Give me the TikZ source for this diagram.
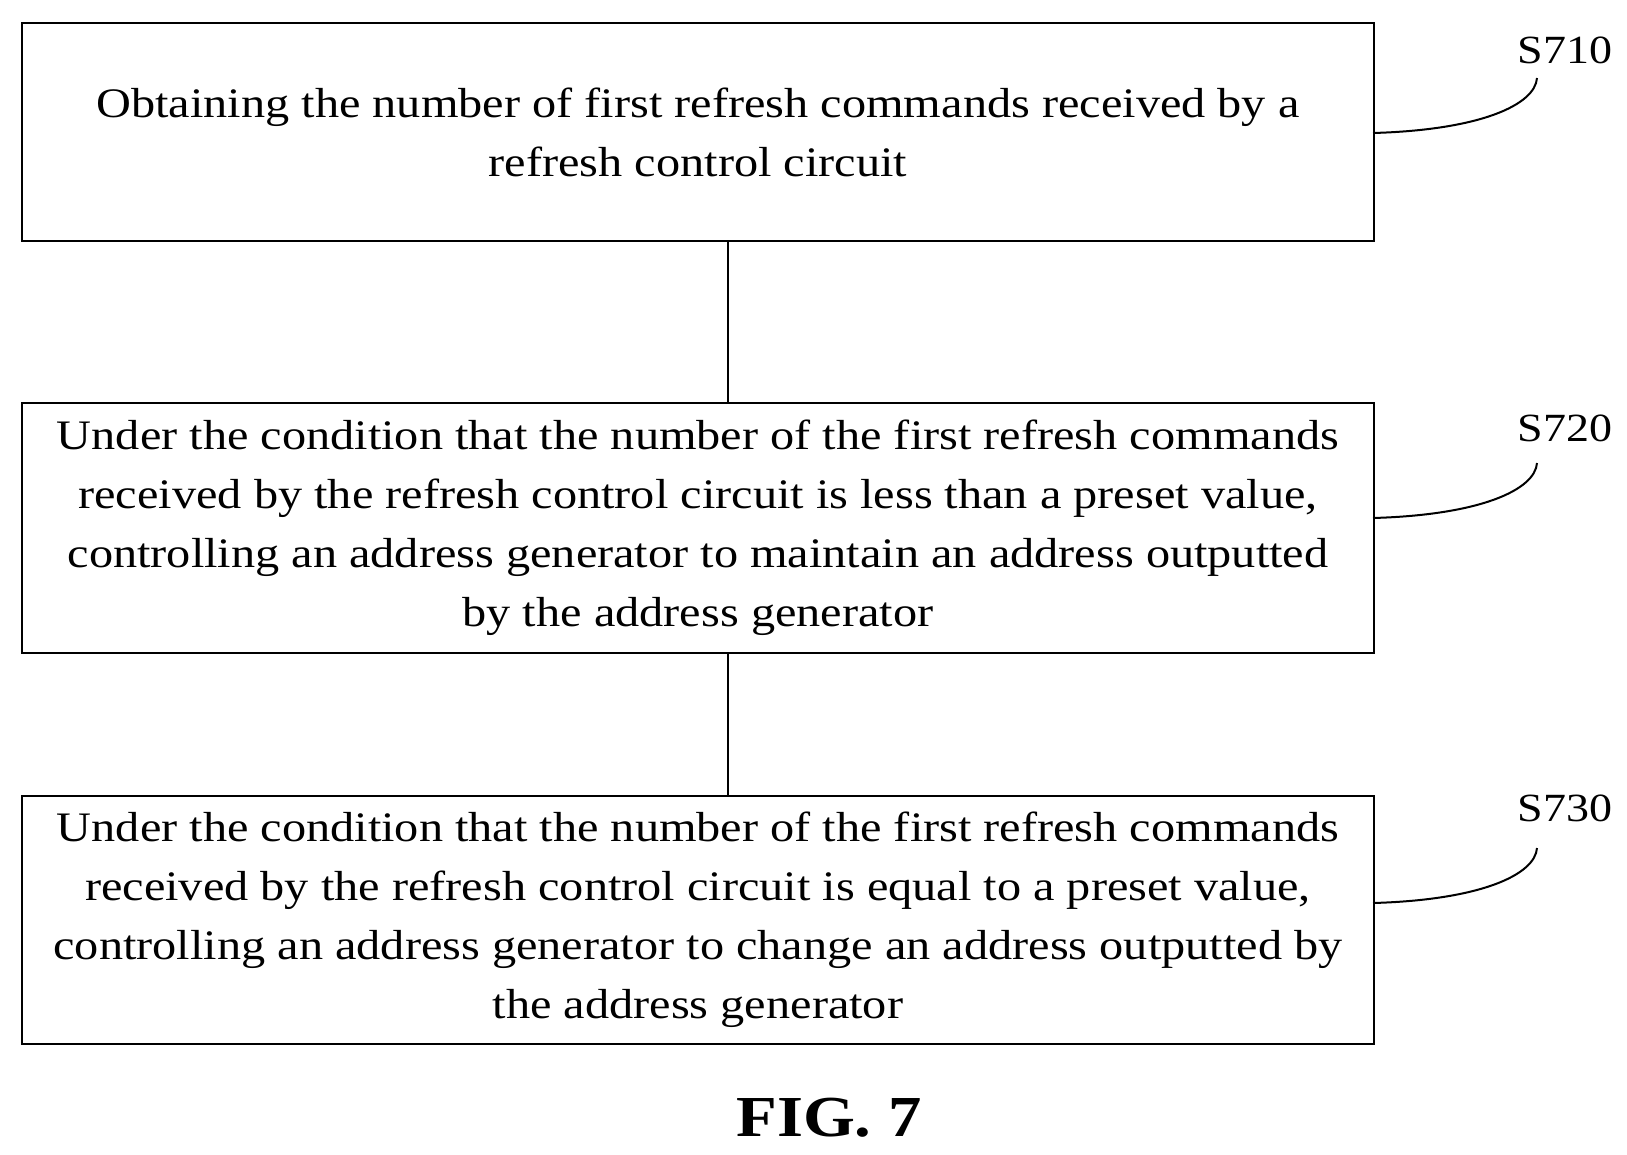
\documentclass[tikz,border=0pt]{standalone}
\usepackage{fontspec}
\setmainfont{Liberation Serif}
\newfontfamily\widefont[FakeStretch=1.15]{Liberation Serif}
\begin{document}
\begin{tikzpicture}[x=1pt,y=-1pt,
  stepbox/.style={draw,line width=2pt,minimum width=1352pt,anchor=north west,inner sep=0pt,align=center,font=\widefont\fontsize{42}{59}\selectfont},
  lbl/.style={font=\widefont\fontsize{40}{44}\selectfont},
  lnk/.style={line width=2pt}]
\useasboundingbox (0,0) rectangle (1627,1154);
\node[stepbox,minimum height=218pt] (b1) at (21,22) {Obtaining the number of first refresh commands received by a\\refresh control circuit};
\node[stepbox,minimum height=250pt] (b2) at (21,402) {Under the condition that the number of the first refresh commands\\received by the refresh control circuit is less than a preset value,\\controlling an address generator to maintain an address outputted\\by the address generator};
\node[stepbox,minimum height=248pt] (b3) at (21,795) {Under the condition that the number of the first refresh commands\\received by the refresh control circuit is equal to a preset value,\\controlling an address generator to change an address outputted by\\the address generator};
\coordinate (c1) at (728,240); \coordinate (c2) at (728,402);
\coordinate (c3) at (728,652); \coordinate (c4) at (728,795);
\draw[lnk] (c1) -- (c2);
\draw[lnk] (c3) -- (c4);
\node[lbl] (l1) at (1565,50) {S710};
\node[lbl] (l2) at (1565,428) {S720};
\node[lbl] (l3) at (1565,808) {S730};
\coordinate (p1) at (1373,133);
\coordinate (p2) at (1373,518);
\coordinate (p3) at (1373,903);
\draw[lnk] (p1) .. controls (1480,130) and (1535,105) .. (1537,78);
\draw[lnk] (p2) .. controls (1480,515) and (1535,490) .. (1537,463);
\draw[lnk] (p3) .. controls (1480,900) and (1535,875) .. (1537,848);
\node[font=\widefont\fontsize{58}{60}\selectfont\bfseries] (fig) at (829,1118) {FIG. 7};
\end{tikzpicture}
\end{document}
